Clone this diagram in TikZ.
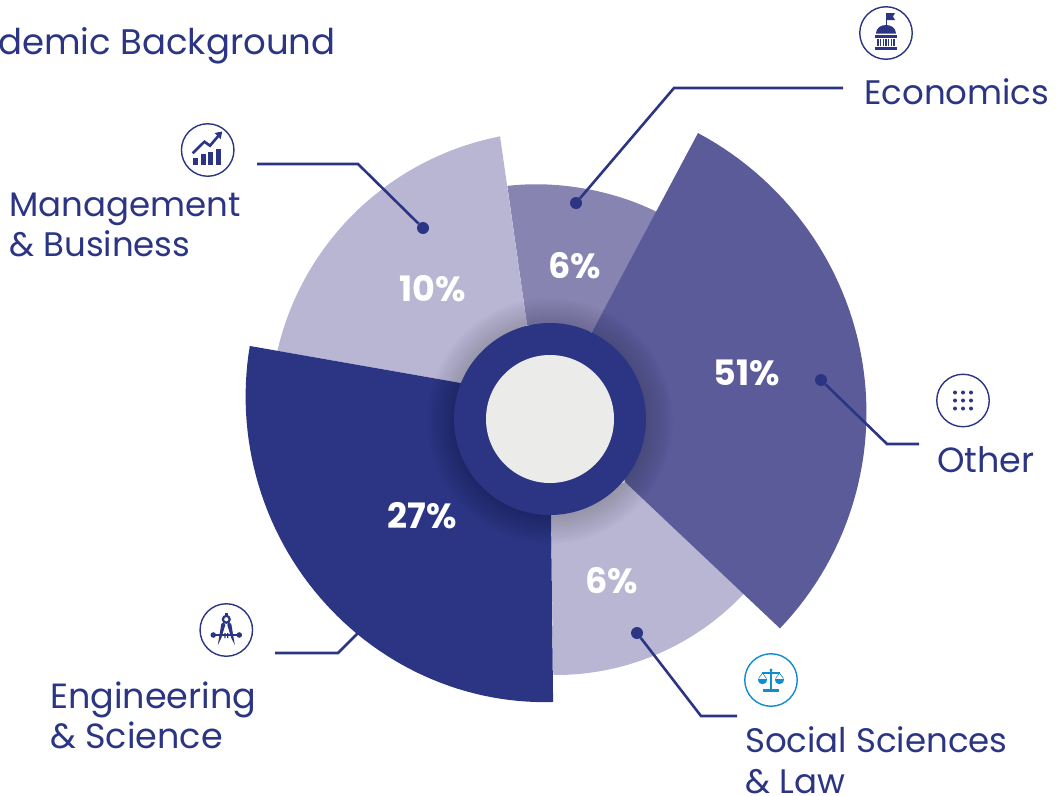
\documentclass[tikz,border=0pt]{standalone}
\usepackage{fontspec}
\setmainfont{Poppins}
\definecolor{navy}{HTML}{2B3583}
\definecolor{slateb}{HTML}{5A5B98}
\definecolor{midb}{HTML}{8784B2}
\definecolor{lightb}{HTML}{B9B6D4}
\definecolor{hub}{HTML}{EBECEA}
\definecolor{skyb}{HTML}{0F8DD0}
\tikzset{
 lab/.style={text=navy,font=\fontsize{34}{40.5}\selectfont,align=left,anchor=west,inner sep=0pt},
 pct/.style={text=white,font=\bfseries\fontsize{35}{36}\selectfont,inner sep=0pt},
 lead/.style={draw=navy,line width=2.6pt},
 dotn/.style={circle,fill=navy,minimum size=12pt,inner sep=0pt},
 ring/.style={circle,draw=navy,line width=1.4pt,fill=white,minimum size=52.5pt,inner sep=0pt},
 wd/.style={domain=0:1,samples=60},
}
\begin{document}
\begin{tikzpicture}[x=1pt,y=-1pt]
\useasboundingbox (0,0) rectangle (1059,795);
% sectors
\fill[midb] (527,325) -- (592,332) -- (657,212) -- plot[wd] ({550+(233+4*\x-2*sin(180*\x))*cos(62.7+37.7*\x)},{419-(233+4*\x-2*sin(180*\x))*sin(62.7+37.7*\x)}) -- cycle;
\fill[lightb] (461,383) -- (527,325) -- (500,136) -- plot[wd] ({550+(287-6*\x)*cos(100.2+65.8*\x)},{419-(287-6*\x)*sin(100.2+65.8*\x)}) -- cycle;
\fill[lightb] (625,482) -- (745,593) -- plot[wd] ({550+(261-5*\x)*cos(-41.7-47.6*\x)},{419-(261-5*\x)*sin(-41.7-47.6*\x)}) -- (551,515) -- cycle;
\fill[slateb] (592,332) -- (698,133) -- plot[wd] ({550+(322-11*\x+1*sin(180*\x))*cos(62.6-105*\x)},{419-(322-11*\x+1*sin(180*\x))*sin(62.6-105*\x)}) -- (625,482) -- cycle;
\fill[navy] (461,383) -- (250,346) -- plot[wd] ({550+(309-26*\x-5*sin(180*\x))*cos(166.3+104.4*\x)},{419-(309-26*\x-5*sin(180*\x))*sin(166.3+104.4*\x)}) -- (551,515) -- cycle;
% shadow of the hub
\foreach \r in {97,99,...,123}{\fill[black,opacity=0.013] (550,421) circle (\r);}
% hub
\fill[navy] (550,419) circle (96);
\node[circle,fill=hub,minimum size=128pt,inner sep=0pt] (hubc) at (550,419) {};
% percents
\node[pct] (p1) at (432.5,289) {10\%};
\node[pct] (p2) at (575,266) {6\%};
\node[pct] (p3) at (746.5,373) {51\%};
\node[pct] (p4) at (612,581) {6\%};
\node[pct] (p5) at (422,516) {27\%};
% title
\node[lab,anchor=base west,font=\fontsize{35.5}{40}\selectfont] (title) at (-2,54.5) {demic Background};
% labels
\node[lab] (econ) at (864,92) {Economics};
\node[lab] (mgmt) at (9,225) {Management\\\& Business};
\node[lab,font=\fontsize{35}{40.5}\selectfont] (eng) at (50,715.5) {Engineering\\\& Science};
\node[lab,font=\fontsize{35}{40.5}\selectfont] (other) at (937,460) {Other};
\node[lab] (soc) at (745,760.5) {Social Sciences\\\& Law};
% dots and connectors
\node[dotn] (d1) at (576,203) {};
\node[dotn] (d2) at (423,228) {};
\node[dotn] (d3) at (821,380) {};
\node[dotn] (d4) at (637,633) {};
\coordinate (e1) at (843,88);
\coordinate (e2) at (257,164);
\coordinate (e3) at (919,444);
\coordinate (e4) at (737,716);
\coordinate (e5) at (275,653);
\coordinate (e5b) at (358,633);
\draw[lead] (d1) -- (674,88) -- (e1);
\draw[lead] (d2) -- (358,164) -- (e2);
\draw[lead] (d3) -- (887,444) -- (e3);
\draw[lead] (d4) -- (701,716) -- (e4);
\draw[lead] (e5) -- (338,653) -- (e5b);
% icon rings
\node[ring] (iEcon) at (886,33) {};
\node[ring] (iMgmt) at (207.7,150) {};
\node[ring] (iEng) at (226.3,630) {};
\node[ring,draw=skyb] (iSoc) at (771,680) {};
\node[ring] (iOther) at (963,400.5) {};
% capitol icon
\begin{scope}[shift={(iEcon)}]
\fill[navy] (-10,0.5) .. controls (-10,-5) and (-5,-8) .. (0,-8) .. controls (5,-8) and (10,-5) .. (10,0.5) -- cycle;
\draw[navy,line width=1pt] (0,-8) -- (0,-20);
\fill[navy] (0,-20) -- (9,-20) -- (7,-16.5) -- (9,-13) -- (0,-13) -- cycle;
\fill[navy] (-11,2) rectangle (11,4.5);
\fill[navy] (-11,14) rectangle (11,17);
\foreach \i in {-8,-5.33,...,8.1}{\fill[navy] (\i-.7,6) rectangle (\i+.7,12.5);}
\end{scope}
% chart icon
\begin{scope}[shift={(iMgmt)}]
\fill[navy] (-14.3,8.3) rectangle (-9.3,15);
\fill[navy] (-6.7,4.3) rectangle (-1.7,15);
\fill[navy] (.7,1.7) rectangle (5.7,15);
\fill[navy] (8.3,-1) rectangle (13.3,15);
\draw[navy,line width=2.6pt] (-15,3.3) -- (-3.3,-8.3) -- (2.3,-4.3) -- (11,-14.5);
\fill[navy] (14.5,-18.5) -- (7,-17) -- (13,-11) -- cycle;
\end{scope}
% compass icon
\begin{scope}[shift={(iEng)}]
\draw[navy,line width=2.2pt] (0,-10.7) circle (3.4);
\draw[navy,line width=2.6pt] (0,-14) -- (0,-17.5);
\fill[navy] (-2.5,-8) -- (-5,-6) -- (-8.5,15) -- (-5,8) -- (-1,-5) -- cycle;
\fill[navy] (2.5,-8) -- (5,-6) -- (8.5,15) -- (5,8) -- (1,-5) -- cycle;
\draw[navy,line width=2pt] (-14,5) -- (14,5);
\fill[navy] (-13,5) circle (2.8) (13,5) circle (2.8);
\fill[navy] (-2,3) rectangle (-.8,8) (.8,3) rectangle (2,8);
\end{scope}
% scales icon
\begin{scope}[shift={(iSoc)}]
\fill[skyb] (-8,9.3) rectangle (8,11.7);
\fill[skyb] (-1.1,-10) rectangle (1.1,9.3);
\fill[skyb] (0,-10) circle (1.6);
\draw[skyb,line width=1.2pt] (-9,-7) -- (9,-7);
\draw[skyb,line width=.6pt] (-8.5,-7) -- (-12.5,-1.5) (-8.5,-7) -- (-4.5,-1.5) (8.5,-7) -- (4.5,-1.5) (8.5,-7) -- (12.5,-1.5);
\fill[skyb] (-12.7,-1.5) .. controls (-12.7,5.5) and (-4.3,5.5) .. (-4.3,-1.5) -- cycle;
\fill[skyb] (4.3,-1.5) .. controls (4.3,5.5) and (12.7,5.5) .. (12.7,-1.5) -- cycle;
\end{scope}
% dots icon
\begin{scope}[shift={(iOther)}]
\foreach \a in {-8,0,8}\foreach \b in {-8,0,8}{\fill[navy] (\a,\b) circle (2);}
\end{scope}
\end{tikzpicture}
\end{document}
